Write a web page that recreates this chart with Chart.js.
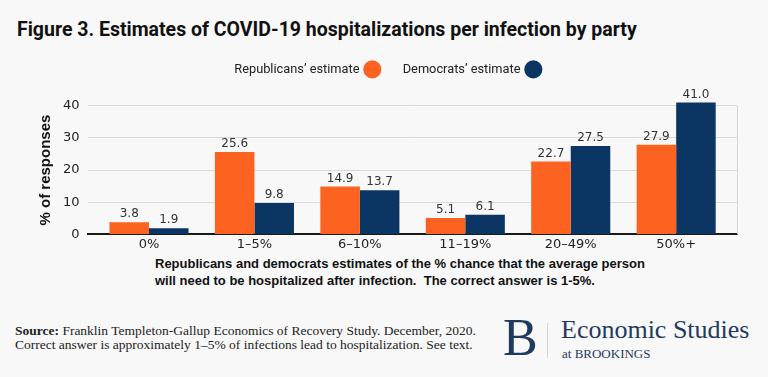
<!DOCTYPE html>
<html>
<head>
<meta charset="utf-8">
<script src="https://cdn.jsdelivr.net/npm/chart.js@4.4.1/dist/chart.umd.min.js"></script>
<style>
  html, body { margin: 0; padding: 0; background: #f8f8f8; }
  #page { position: relative; width: 768px; height: 377px; overflow: hidden; background: #f8f8f8; }
  #title { position: absolute; left: 17px; top: 18px; font-family: "Roboto", sans-serif; font-weight: bold; font-size: 19.5px; line-height: 24px; color: #111; white-space: nowrap; }
  #chartBox { position: absolute; left: 0; top: 30px; width: 768px; height: 224px; }
  #caption { position: absolute; left: 155px; top: 255px; font-family: "Liberation Sans", Arial, sans-serif; font-weight: bold; font-size: 13px; line-height: 17px; color: #111; white-space: nowrap; }
  #source { position: absolute; left: 15px; top: 324px; font-family: "Liberation Serif", serif; font-size: 13.5px; line-height: 14px; color: #222; white-space: nowrap; }
  #logoB { position: absolute; left: 503px; top: 312px; font-family: "Liberation Serif", serif; font-size: 52px; line-height: 52px; color: #1f3a60; }
  #logoBar { position: absolute; left: 547px; top: 323px; width: 1px; height: 35px; background: #cfd3da; }
  #logoName { position: absolute; left: 561px; top: 315px; font-family: "Liberation Serif", serif; font-size: 26px; line-height: 30px; color: #1f3a60; white-space: nowrap; }
  #logoSub { position: absolute; left: 562px; top: 346px; font-family: "Liberation Serif", serif; font-size: 13px; line-height: 15px; color: #1f3a60; white-space: nowrap; }
</style>
</head>
<body>
<div id="page">
  <div id="title">Figure 3. Estimates of COVID-19 hospitalizations per infection by party</div>
  <div id="chartBox"><canvas id="hospChart"></canvas></div>
  <div id="caption">Republicans and democrats estimates of the % chance that the average person<br>will need to be hospitalized after infection.&nbsp; The correct answer is 1-5%.</div>
  <div id="source"><b>Source:</b> Franklin Templeton-Gallup Economics of Recovery Study. December, 2020.<br>Correct answer is approximately 1–5% of infections lead to hospitalization. See text.</div>
  <div id="logoB">B</div>
  <div id="logoBar"></div>
  <div id="logoName">Economic Studies</div>
  <div id="logoSub">at BROOKINGS</div>
</div>
<script>
const categories = ['0%', '1–5%', '6–10%', '11–19%', '20–49%', '50%+'];
const republicans = [3.8, 25.6, 14.9, 5.1, 22.7, 27.9];
const democrats = [1.9, 9.8, 13.7, 6.1, 27.5, 41.0];
const yTicks = [0, 10, 20, 30, 40];

const orange = '#fc6220';
const navy = '#0b3664';

// numbers above the bars
const barValuesPlugin = {
    id: 'barValues',
    afterDatasetsDraw(chart) {
        const ctx = chart.ctx;
        ctx.save();
        ctx.font = '12px "DejaVu Sans", sans-serif';
        ctx.fillStyle = '#333';
        ctx.textAlign = 'center';
        ctx.textBaseline = 'bottom';
        chart.data.datasets.forEach((ds, i) => {
            chart.getDatasetMeta(i).data.forEach((bar, j) => {
                ctx.fillText(ds.data[j].toFixed(1), bar.x, bar.y - 2);
            });
        });
        ctx.restore();
    }
};

// thin border on the right side of the plot
const rightEdgePlugin = {
    id: 'rightEdge',
    beforeDatasetsDraw(chart) {
        const a = chart.chartArea;
        const ctx = chart.ctx;
        ctx.save();
        ctx.strokeStyle = '#d6d6d6';
        ctx.lineWidth = 1;
        ctx.beginPath();
        ctx.moveTo(Math.round(a.right) + 0.5, a.top);
        ctx.lineTo(Math.round(a.right) + 0.5, a.bottom);
        ctx.stroke();
        ctx.restore();
    }
};

// leave more room under the legend
const legendGapPlugin = {
    id: 'legendGap',
    beforeInit(chart) {
        const origFit = chart.legend.fit;
        chart.legend.fit = function () {
            origFit.bind(chart.legend)();
            this.height += 20;
        };
    }
};

const ctx = document.getElementById('hospChart').getContext('2d');
new Chart(ctx, {
    type: 'bar',
    data: {
        labels: categories,
        datasets: [
            {
                label: 'Republicans’ estimate',
                data: republicans,
                backgroundColor: orange,
                clip: false,
            },
            {
                label: 'Democrats’ estimate',
                data: democrats,
                backgroundColor: navy,
                clip: false,
            }
        ]
    },
    options: {
        responsive: true,
        maintainAspectRatio: false,
        animation: false,
        datasets: {
            bar: {
                categoryPercentage: 0.75,
                barPercentage: 1.0,
            }
        },
        layout: {
            padding: { left: 37, right: 31, top: 9, bottom: 0 }
        },
        plugins: {
            legend: {
                display: true,
                rtl: true,
                reverse: true,
                labels: {
                    usePointStyle: true,
                    pointStyle: 'circle',
                    boxWidth: 14,
                    boxHeight: 14,
                    padding: 24,
                    color: '#222',
                    font: { family: 'Roboto, sans-serif', size: 12.8 }
                }
            },
            tooltip: { enabled: false },
        },
        scales: {
            x: {
                afterBuildTicks(axis) {
                    // tighten the category band a little so the groups sit inside the frame
                    axis._startValue = -0.583;
                    axis._valueRange = 6.16;
                },
                grid: { display: false, drawTicks: false },
                border: { display: true, color: '#1a1a1a', width: 2 },
                ticks: {
                    color: '#222',
                    padding: 2,
                    font: { family: '"DejaVu Sans", sans-serif', size: 13 }
                }
            },
            y: {
                min: 0,
                max: 40,
                afterBuildTicks(axis) {
                    axis.ticks = yTicks.map(v => ({ value: v }));
                },
                grid: {
                    color: '#d9d9d9',
                    lineWidth: 1,
                    drawTicks: false,
                },
                border: { display: false },
                ticks: {
                    color: '#222',
                    padding: 8,
                    font: { family: '"DejaVu Sans", sans-serif', size: 13 }
                },
                title: {
                    display: true,
                    text: '% of responses',
                    color: '#111',
                    padding: { top: 0, bottom: 0 },
                    font: { family: '"Liberation Sans", Arial, sans-serif', size: 15, weight: 'bold' }
                }
            }
        }
    },
    plugins: [barValuesPlugin, rightEdgePlugin, legendGapPlugin]
});
</script>
</body>
</html>
